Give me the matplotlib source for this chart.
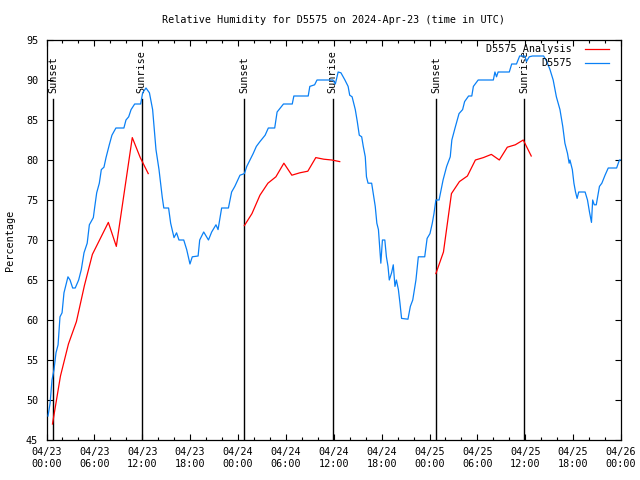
import matplotlib
matplotlib.use("Agg")
import matplotlib.pyplot as plt
from matplotlib.ticker import MultipleLocator, FixedLocator

plt.rcParams['font.family'] = ['DejaVu Sans Mono']

# ---------------- data (hours since 2024-04-23 00:00 UTC) ----------------
obs_hours = [0.19, 0.45, 0.69, 0.94, 1.19, 1.45, 1.69, 1.95, 2.19, 2.69, 2.95, 3.28, 3.6, 4.03,
             4.36, 4.7, 5.1, 5.37, 5.87, 6.04, 6.29, 6.62, 6.87, 7.2, 7.46, 7.87, 8.2, 8.7, 9.7,
             9.96, 10.3, 10.6, 11.05, 11.8, 12.05, 12.47, 12.9, 13.3, 13.72, 14.1, 14.5, 14.7,
             15.3, 15.56, 15.98, 16.3, 16.6, 17.2, 17.57, 17.98, 18.27, 19.0, 19.2, 19.7, 20.3,
             20.7, 21.24, 21.5, 21.95, 22.8, 23.2, 23.6, 24.25, 24.8, 25.1, 25.5, 25.9, 26.3,
             26.75, 27.4, 27.8, 28.6, 28.9, 29.7, 30.8, 31.0, 32.8, 33.0, 33.6, 33.9, 35.9,
             36.2, 36.55, 36.9, 37.4, 37.8, 38.0, 38.3, 38.7, 38.95, 39.2, 39.5, 39.7, 39.95,
             40.1, 40.3, 40.75, 40.95, 41.2, 41.4, 41.6, 41.8, 41.9, 42.1, 42.4, 42.6, 42.8,
             42.96, 43.25, 43.46, 43.67, 43.85, 44.1, 44.3, 44.5, 45.3, 45.6, 45.9, 46.3, 46.6,
             47.4, 47.7, 48.06, 48.35, 48.56, 48.8, 49.2, 49.7, 50.15, 50.6, 50.8, 51.2, 51.7,
             52.15, 52.4, 52.9, 53.3, 53.5, 54.1, 56.0, 56.2, 56.4, 56.6, 58.0, 58.3, 58.9,
             59.3, 59.96, 60.15, 60.5, 60.9, 62.3, 62.7, 63.1, 63.5, 63.9, 64.35, 64.7, 64.97,
             65.3, 65.5, 65.6, 65.9, 66.1, 66.3, 66.5, 66.7, 67.5, 67.8, 68.05, 68.3, 68.45,
             68.65, 68.9, 69.3, 69.6, 70.0, 70.4, 71.45, 71.8, 72.0]
obs_values = [48.0, 49.6, 52.5, 53.8, 55.9, 56.9, 60.4, 60.9, 63.4, 65.4, 65.0, 64.0, 64.0, 65.0,
              66.3, 68.4, 69.6, 71.9, 72.8, 74.1, 75.9, 77.1, 78.8, 79.1, 80.3, 81.9, 83.1, 84.0, 84.0,
              85.0, 85.4, 86.3, 87.0, 87.0, 88.4, 89.0, 88.4, 86.3, 81.3, 78.8, 75.4, 74.0,
              74.0, 72.1, 70.3, 70.9, 70.0, 70.0, 68.8, 67.0, 67.9, 68.0, 70.0, 71.0, 70.0,
              71.0, 71.9, 71.3, 74.0, 74.0, 76.0, 76.7, 78.1, 78.3, 79.2, 80.0, 80.8, 81.7,
              82.3, 83.1, 84.0, 84.0, 86.0, 87.0, 87.0, 88.0, 88.0, 89.2, 89.4, 90.0, 90.0,
              89.5, 91.0, 90.9, 90.0, 89.2, 88.1, 87.9, 86.3, 84.8, 83.1, 82.9, 81.7, 80.4,
              77.9, 77.1, 77.1, 75.8, 74.2, 72.1, 71.3, 68.4, 67.1, 70.0, 70.0, 67.9, 66.7,
              65.0, 65.9, 66.9, 64.2, 65.0, 63.8, 62.1, 60.2, 60.1, 61.7, 62.5, 65.0, 67.9,
              67.9, 70.2, 70.8, 72.1, 73.3, 75.0, 75.0, 77.5, 79.2, 80.4, 82.5, 84.0, 85.8,
              86.3, 87.3, 88.0, 88.0, 89.2, 90.0, 90.0, 91.0, 90.4, 91.0, 91.0, 92.0, 92.0,
              93.0, 93.0, 92.3, 92.9, 93.0, 93.0, 92.3, 91.3, 90.0, 87.9, 86.3, 84.2, 82.1,
              80.8, 79.6, 80.0, 78.8, 77.1, 76.0, 75.2, 76.0, 76.0, 75.0, 73.5, 72.2, 75.0,
              74.4, 74.4, 76.7, 77.1, 78.1, 79.0, 79.0, 80.0, 80.0]

ana1_hours = [0.75, 1.75, 2.75, 3.75, 4.75, 5.75, 6.75, 7.75, 8.75, 9.75, 10.75, 11.75, 12.75]
ana1_values = [47.0, 53.0, 57.0, 59.8, 64.3, 68.2, 70.2, 72.2, 69.2, 76.0, 82.8, 80.3, 78.3]
ana2_hours = [24.8, 25.75, 26.75, 27.75, 28.75, 29.75, 30.75, 31.75, 32.75, 33.75, 34.75, 35.75, 36.75]
ana2_values = [71.8, 73.3, 75.6, 77.1, 77.9, 79.6, 78.1, 78.4, 78.6, 80.3, 80.1, 80.0, 79.8]
ana3_hours = [48.8, 49.75, 50.75, 51.75, 52.75, 53.75, 54.75, 55.75, 56.75, 57.75, 58.75, 59.75, 60.75]
ana3_values = [65.8, 68.5, 75.8, 77.3, 78.0, 80.0, 80.3, 80.7, 80.0, 81.6, 81.9, 82.5, 80.5]

sun_hours = [0.85, 11.93, 24.8, 35.85, 48.83, 59.88]
sun_labels = ["Sunset", "Sunrise", "Sunset", "Sunrise", "Sunset", "Sunrise"]
sun_line_top = 87.6

x_tick_hours = [0, 6, 12, 18, 24, 30, 36, 42, 48, 54, 60, 66, 72]
x_tick_labels = ["04/23\n00:00", "04/23\n06:00", "04/23\n12:00", "04/23\n18:00",
                 "04/24\n00:00", "04/24\n06:00", "04/24\n12:00", "04/24\n18:00",
                 "04/25\n00:00", "04/25\n06:00", "04/25\n12:00", "04/25\n18:00",
                 "04/26\n00:00"]
y_ticks = [45, 50, 55, 60, 65, 70, 75, 80, 85, 90, 95]

title = "Relative Humidity for D5575 on 2024-Apr-23 (time in UTC)"
ylabel = "Percentage"
legend_labels = ["D5575 Analysis", "D5575"]
RED = "#ff0000"
BLUE = "#0a80f5"

# ---------------- figure ----------------
fig = plt.figure(figsize=(6.4, 4.8), dpi=100)
W, H = 640, 480
ax = fig.add_axes([46.5 / W, 40 / H, (621 - 46.5) / W, 400 / H])

fs = 7.3
for h, lab in zip(sun_hours, sun_labels):
    ax.plot([h, h], [45, sun_line_top], color="black", lw=1.0, zorder=1)
    ax.text(h, 88.4, lab, rotation=90, ha="center", va="bottom", fontsize=fs, zorder=1)

for hh, vv in [(ana1_hours, ana1_values), (ana2_hours, ana2_values), (ana3_hours, ana3_values)]:
    ax.plot(hh, vv, color=RED, lw=0.9, zorder=2)
ax.plot(obs_hours, obs_values, color=BLUE, lw=0.9, zorder=3)

ax.set_xlim(0, 72)
ax.set_ylim(45, 95)
ax.xaxis.set_major_locator(FixedLocator(x_tick_hours))
ax.set_xticklabels(x_tick_labels)
ax.xaxis.set_minor_locator(MultipleLocator(2))
ax.set_yticks(y_ticks)
ax.tick_params(axis="both", which="major", direction="in", length=4, width=0.8,
               top=True, right=True, labelsize=fs)
ax.tick_params(axis="x", which="major", pad=5)
ax.tick_params(axis="y", which="major", pad=6)
ax.tick_params(axis="x", which="minor", direction="in", length=2, width=0.8, top=True)
for s in ax.spines.values():
    s.set_linewidth(0.9)

ax.set_ylabel(ylabel, fontsize=fs)
ax.yaxis.set_label_coords(-0.055, 0.5)

fig.text(333 / W, 1 - 20 / H, title, ha="center", va="center", fontsize=fs)

# legend (gnuplot style: right-justified text, sample line to the right)
for i, (lab, col) in enumerate(zip(legend_labels, [RED, BLUE])):
    yy = [0.9768, 0.943][i]
    ax.text(0.9147, yy, lab, transform=ax.transAxes, ha="right", va="center", fontsize=fs, zorder=4)
    ax.plot([0.9365, 0.979], [yy, yy], transform=ax.transAxes, color=col, lw=0.9, zorder=4)

fig.savefig("out.png", dpi=100)
